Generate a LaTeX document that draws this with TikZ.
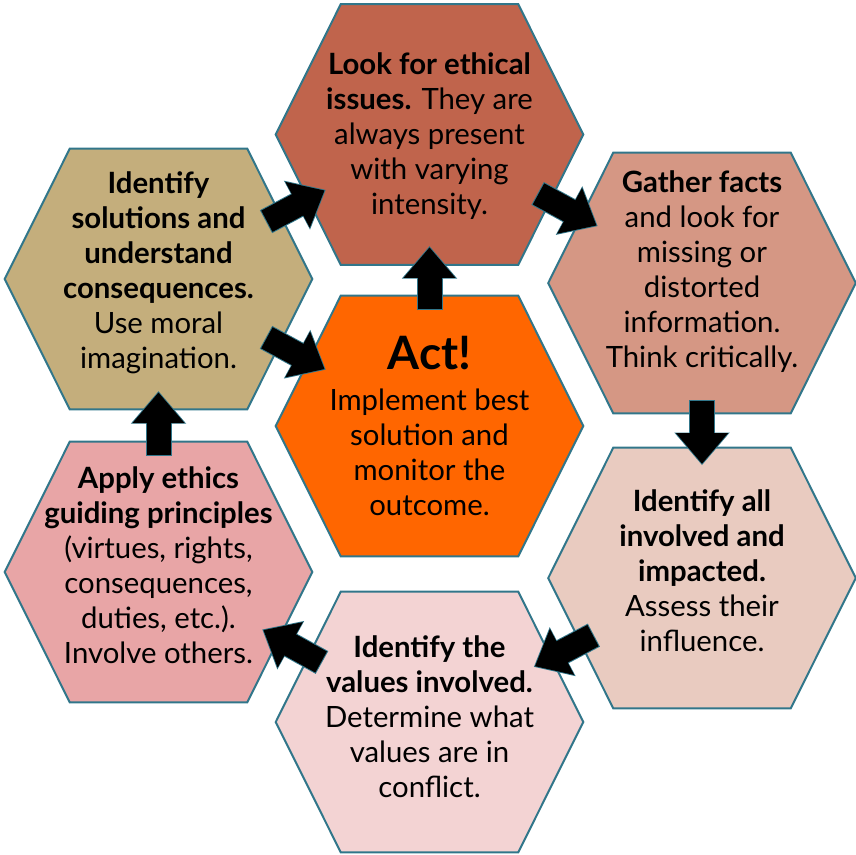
\documentclass[tikz,border=0pt]{standalone}
\usepackage{fontspec}
\setmainfont{Lato}
\usepackage{tikz}
\usetikzlibrary{arrows.meta}
\usetikzlibrary{calc}
\usetikzlibrary{backgrounds}

\definecolor{rim}{RGB}{49,118,138}
\definecolor{lookfill}{RGB}{192,100,76}
\definecolor{factsfill}{RGB}{213,151,132}
\definecolor{partiesfill}{RGB}{233,203,192}
\definecolor{valuesfill}{RGB}{243,211,211}
\definecolor{applyfill}{RGB}{232,165,166}
\definecolor{solfill}{RGB}{196,174,124}
\definecolor{actfill}{RGB}{255,102,0}

\begin{document}
\begin{tikzpicture}[x=0.75pt,y=-0.75pt,
    hexa/.style={minimum width=230.25pt, minimum height=195pt, inner sep=0pt,
      align=center, font=\fontsize{22}{26.25}\selectfont},
    rimline/.style={draw=rim, line width=1.5pt},
    flowrim/.style={draw=rim, line width=19.5pt, shorten >=-1pt, shorten <=-0.75pt,
      -{Triangle[length=24.5pt,width=40pt]}},
    flow/.style={line width=18pt, -{Triangle[length=23pt,width=37.5pt]}}]
      \useasboundingbox (0,0) rectangle (856,854);

      \node[hexa, text depth=1.5pt] (look) at (429.5,134.5)
        {\textbf{Look for ethical}\\\textbf{issues.} They are\\always present\\with varying\\intensity.};
      \node[hexa, text depth=21pt] (facts) at (702,283)
        {\textbf{Gather facts}\\and look for\\missing or\\distorted\\information.\\Think critically.};
      \node[hexa, text depth=11pt] (parties) at (702,578)
        {\textbf{Identify all}\\\textbf{involved and}\\\textbf{impacted.}\\Assess their\\influence.};
      \node[hexa, text depth=7.5pt] (values) at (429.5,722)
        {\textbf{Identify the}\\\textbf{values involved.}\\Determine what\\values are in\\conflict.};
      \node[hexa, text depth=11pt] (apply) at (158.5,572)
        {\textbf{Apply ethics}\\\textbf{guiding principles}\\(virtues, rights,\\consequences,\\duties, etc.).\\Involve others.};
      \node[hexa, text depth=12.75pt] (sol) at (158.5,279)
        {\textbf{Identify}\\\textbf{solutions and}\\\textbf{understand}\\\textbf{consequences.}\\Use moral\\imagination.};
      \node[hexa] (act) at (429.5,426)
        {{\fontsize{34.5}{40}\selectfont\textbf{Act!}}\\[5pt]Implement best\\solution and\\monitor the\\outcome.};

      % hexagons behind the texts
      \begin{scope}[on background layer]
        \foreach \n/\c in {look/lookfill, facts/factsfill, parties/partiesfill,
                           values/valuesfill, apply/applyfill, sol/solfill, act/actfill}
          \draw[rimline, fill=\c] (\n.west) -- ($(\n.north west)+(65,0)$)
            -- ($(\n.north east)+(-65,0)$) -- (\n.east)
            -- ($(\n.south east)+(-65,0)$) -- ($(\n.south west)+(65,0)$) -- cycle;
      \end{scope}

      \foreach \a/\b in {sol/look, look/facts, facts/parties, parties/values,
                         values/apply, apply/sol, sol/act, act/look}
        {
        \draw[flowrim] ($(\a)!0.4!(\b)$) -- ($(\a)!0.613!(\b)$);
        \draw[flow] ($(\a)!0.4!(\b)$) -- ($(\a)!0.613!(\b)$);
        }
\end{tikzpicture}
\end{document}
